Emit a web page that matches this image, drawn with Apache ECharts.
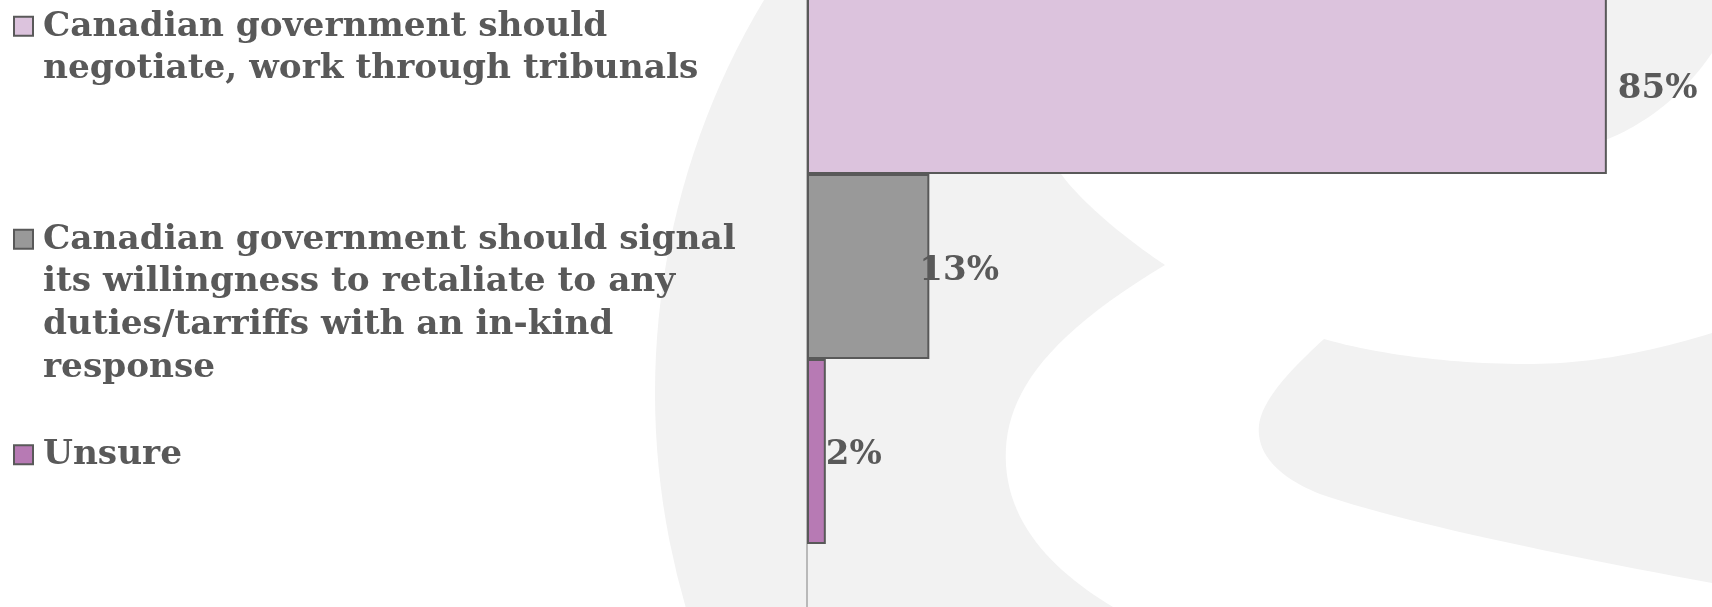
<!DOCTYPE html>
<html>
<head>
<meta charset="utf-8">
<script src="https://cdn.jsdelivr.net/npm/echarts@6/dist/echarts.min.js"></script>
<style>
  html, body { margin: 0; padding: 0; background: #ffffff; }
  #chart { width: 1712px; height: 607px; }
</style>
</head>
<body>
<div id="chart"></div>
<script>
// Survey responses
const categories = [
  'Canadian government should\nnegotiate, work through tribunals',
  'Canadian government should signal\nits willingness to retaliate to any\nduties/tarriffs with an in-kind\nresponse',
  'Unsure'
];
const values = [85, 13, 2];
const colors = ['#dcc3dd', '#999999', '#b77ab4'];

const TEXT = '#595959';
const FONT = '"DejaVu Serif", "Liberation Serif", serif';

// Flatten a path of line / cubic segments into polygon points
function flatten(start, segs) {
  const pts = [start.slice()];
  let cur = start.slice();
  segs.forEach(s => {
    if (s[0] === 'L') {
      cur = [s[1], s[2]];
      pts.push(cur);
    } else {
      const [, x1, y1, x2, y2, x, y] = s;
      for (let i = 1; i <= 24; i++) {
        const t = i / 24, u = 1 - t;
        pts.push([
          u*u*u*cur[0] + 3*u*u*t*x1 + 3*u*t*t*x2 + t*t*t*x,
          u*u*u*cur[1] + 3*u*u*t*y1 + 3*u*t*t*y2 + t*t*t*y
        ]);
      }
      cur = [x, y];
    }
  });
  return pts;
}

// Watermark: large light disc with a white ribbon through it
const ribbon = flatten([1061, 174], [
  ['L', 1040, 150],
  ['L', 1560, 150],
  ['L', 1608, 139],
  ['C', 1640, 126, 1680, 100, 1712, 53],
  ['L', 1712, 333],
  ['C', 1640, 355, 1580, 365, 1517, 364],
  ['C', 1450, 363, 1380, 355, 1324, 339],
  ['C', 1290, 370, 1262, 400, 1259, 425],
  ['C', 1256, 455, 1280, 478, 1320, 494],
  ['C', 1400, 522, 1560, 555, 1712, 583],
  ['L', 1712, 607],
  ['L', 1113, 607],
  ['C', 1060, 575, 1010, 530, 1006, 465],
  ['C', 1002, 400, 1040, 340, 1165, 265],
  ['C', 1120, 235, 1080, 200, 1061, 174]
]);

// Legend entries: square swatch beside the first line of wrapped text
const legendTops = [5.5, 218.5, 434];
const lineH = 42.6;
const legendEls = [];
categories.forEach((name, i) => {
  const top = legendTops[i];
  legendEls.push({
    type: 'rect',
    shape: { x: 14, y: top + lineH / 2 - 10, width: 19, height: 19 },
    style: { fill: colors[i], stroke: TEXT, lineWidth: 2 },
    z: 10
  });
  legendEls.push({
    type: 'text',
    x: 43,
    y: top,
    style: {
      text: name,
      fill: TEXT,
      font: 'bold 34.3px ' + FONT,
      lineHeight: lineH,
      verticalAlign: 'top',
      align: 'left'
    },
    z: 10
  });
});

const labelDistance = [11, -10, 0];
const labelOffset = [[0, 8], [0, 5], [0, 4]];

const chart = echarts.init(document.getElementById('chart'), null, { renderer: 'canvas' });
chart.setOption({
  backgroundColor: '#ffffff',
  animation: false,
  graphic: [
    { type: 'circle', shape: { cx: 1418, cy: 393, r: 763 }, style: { fill: '#f2f2f2' }, z: -20, silent: true },
    { type: 'polygon', shape: { points: ribbon }, style: { fill: '#ffffff' }, z: -19, silent: true }
  ].concat(legendEls),
  grid: { left: 807, top: -74, width: 941, height: 681, outerBoundsMode: 'none' },
  xAxis: {
    type: 'value', min: 0, max: 100,
    axisLine: { show: false }, axisTick: { show: false },
    axisLabel: { show: false }, splitLine: { show: false }
  },
  yAxis: {
    type: 'category', data: [''], inverse: true,
    axisLine: { show: true, lineStyle: { color: '#a6a6a6', width: 1.5 } },
    axisTick: { show: false }, axisLabel: { show: false }
  },
  series: categories.map((name, i) => ({
    name: name,
    type: 'bar',
    data: [values[i]],
    barWidth: 185,
    barGap: '0%',
    itemStyle: { color: colors[i], borderColor: TEXT, borderWidth: 2 },
    label: {
      show: true,
      position: 'right',
      distance: labelDistance[i],
      offset: labelOffset[i],
      formatter: '{c}%',
      color: TEXT,
      fontFamily: FONT,
      fontWeight: 'bold',
      fontSize: 34
    }
  }))
});
</script>
</body>
</html>
